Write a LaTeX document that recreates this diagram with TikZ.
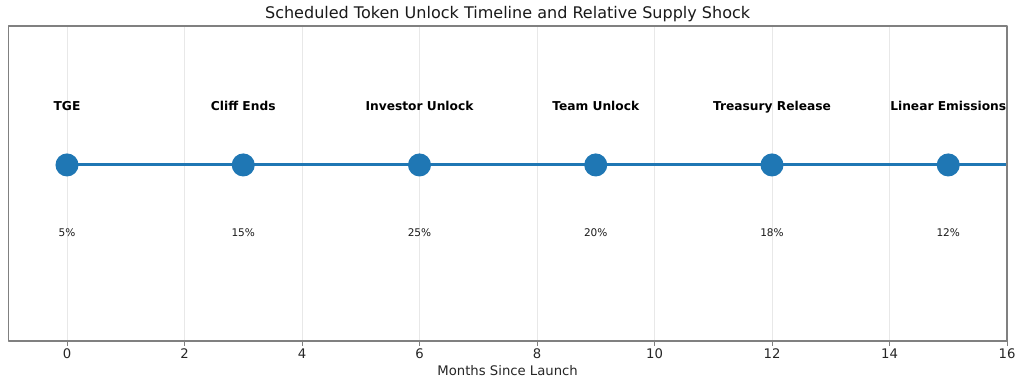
\documentclass[tikz,border=0pt]{standalone}
\usepackage{fontspec}
\setmainfont{DejaVu Sans}
\definecolor{tabblue}{HTML}{1F77B4}
\definecolor{gridgrey}{HTML}{E8E8E8}
\definecolor{framegrey}{HTML}{808080}
\tikzset{
  milestone/.style={circle,fill=tabblue,inner sep=0pt,minimum size=16.4pt},
  eventlabel/.style={anchor=base,inner sep=0pt,font=\fontsize{8.7}{9}\selectfont\bfseries},
  shocklabel/.style={anchor=base,inner sep=0pt,font=\fontsize{7.5}{8}\selectfont,text=black!90},
  ticklabel/.style={anchor=base,inner sep=0pt,font=\fontsize{9.4}{10}\selectfont,text=black!85}
}
\begin{document}
\begin{tikzpicture}[x=1.46875cm,y=0.025cm,line join=round]
	\useasboundingbox (-1.1404,-222) rectangle (16.2894,165);
	% grid
	\foreach \m in {0,2,...,16}
	\draw[gridgrey,line width=0.6pt] (\m,-176)--(\m,139);
	% timeline
	\coordinate (edge) at (16,0);
	\foreach \m/\name/\txt/\pct in {0/m0/TGE/5\%,3/m1/Cliff Ends/15\%,6/m2/Investor Unlock/25\%,9/m3/Team Unlock/20\%,12/m4/Treasury Release/18\%,15/m5/Linear Emissions/12\%}
	{
		\coordinate (\name) at (\m,0);
		\node[eventlabel] (\name-lbl) at (\m,54) {\txt};
		\node[shocklabel] (\name-pct) at (\m,-72) {\pct};
	}
	\draw[tabblue,line width=2.1pt] (m0)--(edge);
	\foreach \name in {m0,m1,m2,m3,m4,m5}
	\node[milestone] at (\name) {};
	% axes
	\draw[framegrey,line width=0.85pt] (-1,-176) rectangle (16,139);
	\foreach \m in {0,2,...,16}
	{
		\draw[framegrey,line width=0.6pt] (\m,-176)--(\m,-181);
		\node[ticklabel] (tick\m) at (\m,-194) {\m};
	}
	\node[ticklabel] (xlabel) at (7.5,-211) {Months Since Launch};
	\node[anchor=base,inner sep=0pt,font=\fontsize{11.4}{12}\selectfont,text=black!90] (title) at (7.5,146) {Scheduled Token Unlock Timeline and Relative Supply Shock};
\end{tikzpicture}
\end{document}
